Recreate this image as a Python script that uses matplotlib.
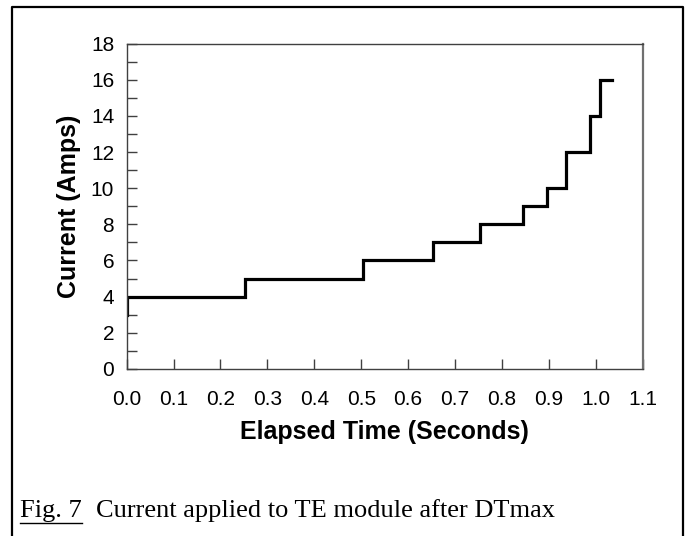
import matplotlib
matplotlib.use('Agg')
from matplotlib import pyplot as plt
from matplotlib.lines import Line2D
import numpy as np

# step profile
elapsedTime = [0.0, 0.0, 0.253, 0.504, 0.654, 0.754, 0.845, 0.896, 0.936, 0.988, 1.008, 1.035]
currentAmps = [3, 4, 5, 6, 7, 8, 9, 10, 12, 14, 16, 16]

xTicks = [0.0, 0.1, 0.2, 0.3, 0.4, 0.5, 0.6, 0.7, 0.8, 0.9, 1.0, 1.1]
yTicks = [0, 2, 4, 6, 8, 10, 12, 14, 16, 18]

xLabel = 'Elapsed Time (Seconds)'
yLabel = 'Current (Amps)'
figTag = 'Fig. 7'
caption = 'Current applied to TE module after DTmax'


def main():
	plt.rcParams['font.family'] = ['Liberation Sans', 'DejaVu Sans']
	fig = plt.figure(figsize=(6.9, 5.36), dpi=100)
	ax = fig.add_axes([0.1836, 0.3116, 0.7478, 0.6072])

	ax.plot(elapsedTime, currentAmps, drawstyle='steps-post', color='black', lw=2.3,
		solid_joinstyle='miter')

	ax.set_xlim(0, 1.1)
	ax.set_ylim(0, 18)
	ax.set_xticks(xTicks)
	ax.set_xticklabels(['%.1f' % t for t in xTicks])
	ax.set_yticks(yTicks)
	ax.set_yticks(np.arange(1, 18, 2), minor=True)

	ax.tick_params(axis='both', which='both', direction='in', color='#404040', width=1,
		labelsize=15)
	ax.tick_params(axis='x', which='major', length=7, pad=15)
	ax.tick_params(axis='y', which='major', length=7, pad=9)
	ax.tick_params(axis='y', which='minor', length=7)
	for side in ['left', 'bottom', 'top', 'right']:
		ax.spines[side].set_color('#404040')
		ax.spines[side].set_linewidth(1.0)
	ax.spines['right'].set_color('#707070')
	ax.spines['right'].set_linewidth(1.6)

	ax.set_xlabel(xLabel, fontsize=18, fontweight='bold', va='center')
	ax.set_ylabel(yLabel, fontsize=18, fontweight='bold', va='center')
	ax.xaxis.set_label_coords(0.5, -0.194)
	ax.yaxis.set_label_coords(-0.111, 0.5)

	# outer frame (bottom edge falls off the picture)
	fl, fr, ft, fb = 11.5 / 690, 683 / 690, 1 - 6.5 / 536, 0.0
	fig.lines.append(Line2D([fl, fl, fr, fr], [fb, ft, ft, fb], transform=fig.transFigure,
		color='black', lw=1.6))

	serif = ['Liberation Serif', 'DejaVu Serif']
	base = 1 - 517 / 536
	tag = fig.text(20 / 690, base, figTag, family=serif, fontsize=19, va='baseline')
	fig.canvas.draw()
	bb = tag.get_window_extent(fig.canvas.get_renderer())
	x0, x1 = bb.x0 / 690, bb.x1 / 690
	yLine = (bb.y0 - 0.5) / 536
	fig.lines.append(Line2D([x0, x1], [yLine, yLine], transform=fig.transFigure, color='black', lw=1))
	fig.text(bb.x1 / 690 + 0.02, base, caption, family=serif, fontsize=19, va='baseline')

	fig.savefig('out.png', dpi=100)
	plt.close()

main()
